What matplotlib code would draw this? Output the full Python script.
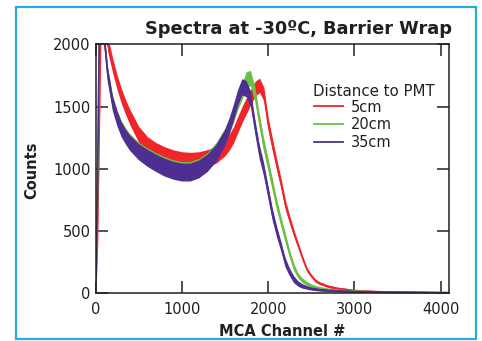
import matplotlib
matplotlib.use("Agg")
import matplotlib.pyplot as plt
from matplotlib.lines import Line2D
from matplotlib.patches import Rectangle
import numpy as np

plt.rcParams['font.family'] = ['DejaVu Sans']

# ---- data ----
channels = [0, 20, 45, 70, 100, 140, 200, 250, 300, 350,
            400, 500, 600, 700, 800, 900, 1000, 1100, 1200, 1300,
            1400, 1500, 1550, 1600, 1650, 1700, 1750, 1800, 1850, 1900,
            1950, 2000, 2050, 2100, 2150, 2200, 2250, 2300, 2350, 2400,
            2450, 2500, 2550, 2600, 2700, 2800, 3000, 3300, 3600, 4096]

counts_5cm = [0, 400, 1500, 2600, 2600, 2000, 1820, 1690, 1580, 1490,
              1410, 1275, 1190, 1140, 1105, 1080, 1065, 1060, 1065, 1085,
              1115, 1170, 1215, 1275, 1360, 1440, 1510, 1580, 1645, 1670,
              1600, 1360, 1190, 1030, 880, 710, 590, 480, 380, 280,
              190, 140, 100, 80, 55, 40, 22, 12, 8, 5]

counts_20cm = [0, 700, 2200, 2800, 2070, 1772, 1532, 1417, 1327, 1267,
               1217, 1147, 1097, 1057, 1023, 998, 983, 983, 1007, 1057,
               1137, 1255, 1335, 1425, 1530, 1615, 1710, 1725, 1600, 1390,
               1200, 1040, 880, 720, 580, 450, 320, 210, 140, 100,
               78, 60, 48, 40, 28, 22, 15, 10, 8, 5]

counts_35cm = [0, 800, 2300, 2800, 2050, 1760, 1520, 1405, 1315, 1255,
               1205, 1135, 1085, 1045, 1010, 985, 970, 970, 995, 1045,
               1125, 1245, 1335, 1445, 1565, 1655, 1640, 1560, 1340, 1140,
               1000, 820, 640, 500, 380, 250, 170, 110, 75, 55,
               45, 35, 30, 25, 20, 17, 12, 9, 7, 4]

# half-height of the noisy band seen around each curve
noise_band = [0, 25, 40, 55, 60, 60, 60, 60, 60, 60,
              62, 65, 68, 70, 72, 72, 72, 72, 72, 70,
              68, 65, 65, 65, 65, 65, 65, 62, 60, 58,
              55, 52, 50, 45, 40, 38, 32, 28, 22, 18,
              15, 13, 12, 11, 10, 9, 8, 7, 6, 5]

series_labels = ['5cm', '20cm', '35cm']
series_colors = ['#EE2629', '#6DBE45', '#4F2E91']
x_ticks = [0, 1000, 2000, 3000, 4000]
y_ticks = [0, 500, 1000, 1500, 2000]

# ---- figure ----
W, H = 482, 341
fig = plt.figure(figsize=(W / 100, H / 100), dpi=100)
ax = fig.add_axes([95.7 / W, 1 - 293.3 / H, (449.3 - 95.7) / W, (293.3 - 44.3) / H])

ch = np.array(channels)
band = np.array(noise_band)
for vals, col in zip([counts_5cm, counts_20cm, counts_35cm], series_colors):
    v = np.array(vals)
    ax.fill_between(ch, v - band, v + band, color=col, lw=0, zorder=2)
    ax.plot(ch, v, color=col, lw=1.2, zorder=2)

ax.set_xlim(0, 4100)
ax.set_ylim(0, 2000)
ax.set_xticks(x_ticks)
ax.set_yticks(y_ticks)
dark = '#231F20'
ax.tick_params(direction='in', length=8.5, width=1.1, color=dark,
               top=True, right=True, labelsize=10.5, labelcolor=dark)
ax.tick_params(axis='x', pad=6)
ax.tick_params(axis='y', pad=3.5)
for s in ax.spines.values():
    s.set_linewidth(1.1)
    s.set_color(dark)

fig.text(452 / W, 1 - 34 / H, 'Spectra at -30ºC, Barrier Wrap', ha='right',
         va='baseline', fontsize=12.8, fontweight='bold', color=dark)
fig.text(281.7 / W, 1 - 331 / H, 'MCA Channel #', ha='center', va='center',
         fontsize=10.5, fontweight='bold', color=dark)
fig.text(32 / W, 1 - 170 / H, 'Counts', ha='center', va='center', rotation=90,
         fontsize=10.5, fontweight='bold', color=dark)

# legend
fig.text(373.5 / W, 1 - 96 / H, 'Distance to PMT', ha='center', va='baseline',
         fontsize=10.8, fontweight='medium', color=dark)
handles = [Line2D([], [], color=c, lw=1.3) for c in series_colors]
leg = ax.legend(handles, series_labels, loc='upper left', frameon=False,
                bbox_to_anchor=(314 / W, 1 - 99.5 / H), bbox_transform=fig.transFigure,
                borderpad=0, borderaxespad=0, handlelength=2.0, handletextpad=0.55,
                labelspacing=0.2, fontsize=10.5)
for t in leg.get_texts():
    t.set_color(dark)

# border frame
fig.patches.append(Rectangle((16 / W, 1 - 339 / H), 460 / W, 332 / H,
                             transform=fig.transFigure, fill=False,
                             edgecolor='#29A9E1', lw=1.6))

fig.savefig('out.png', dpi=100)
